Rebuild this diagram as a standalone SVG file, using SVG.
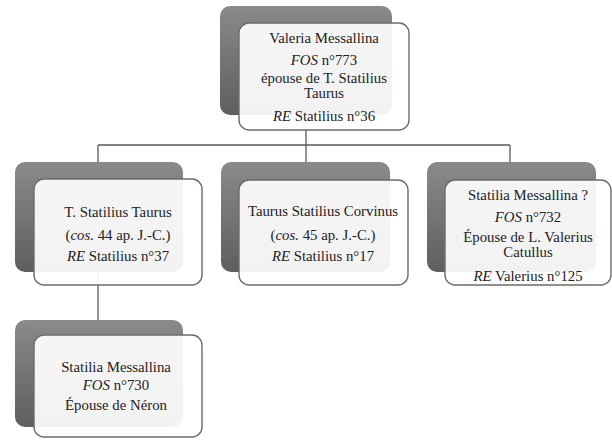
<svg xmlns="http://www.w3.org/2000/svg" width="612" height="441" viewBox="0 0 612 441">
<defs>
<linearGradient id="sh" x1="0" y1="0" x2="0" y2="1">
<stop offset="0" stop-color="#8a8a8a"/>
<stop offset="1" stop-color="#5e5e5e"/>
</linearGradient>
<style>
.back{fill:url(#sh);}
.front{fill:#ffffff;fill-opacity:0.92;stroke:#6b6b6b;stroke-width:1.4;}
.conn{fill:none;stroke:#5a5a5a;stroke-width:1.3;}
.t{font-family:"Liberation Serif","Times New Roman",Times,serif;font-size:14.8px;fill:#222;text-anchor:middle;}
.i{font-style:italic;}
</style>
</defs>
<rect width="612" height="441" fill="#ffffff"/>
<g id="connectors">
<path class="conn" d="M306,115 V145 M98,145 H510 M98,145 V162 M306,145 V162 M510,145 V162 M98,272 V320"/>
</g>
<g id="node-valeria">
<rect class="back" x="220" y="6" width="172" height="109" rx="10"/>
<rect class="front" x="239" y="23" width="170" height="107" rx="10"/>
<text class="t" x="324" y="43">Valeria Messallina</text>
<text class="t" x="324" y="65"><tspan class="i">FOS</tspan> n°773</text>
<text class="t" x="324" y="83">épouse de T. Statilius</text>
<text class="t" x="324" y="98">Taurus</text>
<text class="t" x="324" y="121"><tspan class="i">RE</tspan> Statilius n°36</text>
</g>
<g id="node-taurus">
<rect class="back" x="15" y="162" width="168" height="110" rx="10"/>
<rect class="front" x="34" y="179" width="168" height="106" rx="10"/>
<text class="t" x="118" y="217">T. Statilius Taurus</text>
<text class="t" x="118" y="240">(<tspan class="i">cos.</tspan> 44 ap. J.-C.)</text>
<text class="t" x="118" y="261"><tspan class="i">RE</tspan> Statilius n°37</text>
</g>
<g id="node-corvinus">
<rect class="back" x="221" y="162" width="169" height="110" rx="10"/>
<rect class="front" x="239" y="180" width="169" height="105" rx="10"/>
<text class="t" x="323" y="216">Taurus Statilius Corvinus</text>
<text class="t" x="323" y="240">(<tspan class="i">cos.</tspan> 45 ap. J.-C.)</text>
<text class="t" x="323" y="261"><tspan class="i">RE</tspan> Statilius n°17</text>
</g>
<g id="node-statilia-732">
<rect class="back" x="427" y="162" width="169" height="110" rx="10"/>
<rect class="front" x="445" y="180" width="166" height="105" rx="10"/>
<text class="t" x="528" y="200">Statilia Messallina ?</text>
<text class="t" x="528" y="222"><tspan class="i">FOS</tspan> n°732</text>
<text class="t" x="528" y="242">Épouse de L. Valerius</text>
<text class="t" x="528" y="257">Catullus</text>
<text class="t" x="528" y="281"><tspan class="i">RE</tspan> Valerius n°125</text>
</g>
<g id="node-statilia-730">
<rect class="back" x="15" y="320" width="168" height="107" rx="10"/>
<rect class="front" x="34" y="335" width="168" height="102" rx="10"/>
<text class="t" x="116" y="372">Statilia Messallina</text>
<text class="t" x="116" y="390"><tspan class="i">FOS</tspan> n°730</text>
<text class="t" x="116" y="410">Épouse de Néron</text>
</g>
</svg>
